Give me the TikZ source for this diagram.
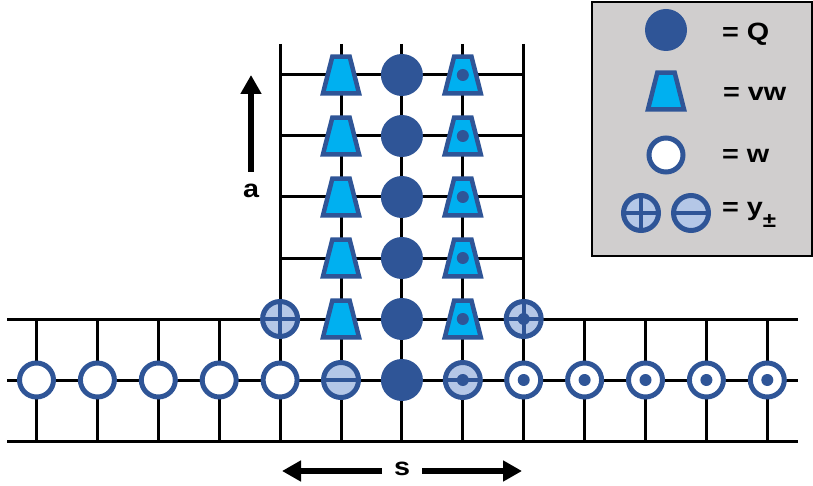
\documentclass[tikz,border=0pt]{standalone}
\usepackage{fontspec}
\setmainfont{Liberation Sans}[FakeStretch=1.15]
\usetikzlibrary{arrows.meta}
\definecolor{dkblue}{HTML}{2F5597}
\definecolor{ltblue}{HTML}{00B0F0}
\definecolor{pale}{HTML}{B4C7E7}
\definecolor{legbg}{HTML}{D0CECE}
\begin{document}
\begin{tikzpicture}[x=1pt,y=-1pt,
  gridline/.style={line width=3pt,black},
  qnode/.style={circle,fill=dkblue,minimum size=42pt,inner sep=0pt},
  wnode/.style={circle,draw=dkblue,line width=5pt,fill=white,minimum size=34pt,inner sep=0pt},
  wdot/.style={wnode,path picture={\fill[dkblue] (path picture bounding box.center) circle (6pt);}},
  ynode/.style={circle,draw=dkblue,line width=5pt,fill=pale,minimum size=35pt,inner sep=0pt},
  yplus/.style={ynode,path picture={\draw[dkblue,line width=4pt]
      (path picture bounding box.north) -- (path picture bounding box.south)
      (path picture bounding box.west) -- (path picture bounding box.east);}},
  yplusdot/.style={ynode,path picture={\draw[dkblue,line width=4pt]
      (path picture bounding box.north) -- (path picture bounding box.south)
      (path picture bounding box.west) -- (path picture bounding box.east);
      \fill[dkblue] (path picture bounding box.center) circle (6pt);}},
  yminus/.style={ynode,path picture={\draw[dkblue,line width=4pt]
      (path picture bounding box.west) -- (path picture bounding box.east);}},
  yminusdot/.style={ynode,path picture={\draw[dkblue,line width=4pt]
      (path picture bounding box.west) -- (path picture bounding box.east);
      \fill[dkblue] (path picture bounding box.center) circle (6pt);}},
  vw/.style={rectangle,minimum width=40pt,minimum height=41pt,inner sep=0pt,
      append after command={\pgfextra{\filldraw[draw=dkblue,fill=ltblue,line width=4.5pt,line join=miter]
        (\tikzlastnode.center) ++(-18,18.3) -- ++(36,0) -- ++(-9.3,-36.6) -- ++(-17.4,0) -- cycle;}}},
  vwdot/.style={vw,append after command={\pgfextra{\fill[dkblue] (\tikzlastnode.center) circle (6pt);}}},
  lab/.style={font=\bfseries\fontsize{25}{28}\selectfont,inner sep=0pt},
  bigarrow/.style={line width=6pt,-{Triangle[width=20pt,length=19pt]}},
]
\useasboundingbox (0,0) rectangle (813,486);
% lattice coordinates
\foreach \c/\x in {1/36.5,2/97.4,3/158.3,4/219.2,5/280.1,6/341,7/401.9,8/462.8,9/523.7,10/584.6,11/645.5,12/706.4,13/767.3}{
  \coordinate (t\c) at (\x,44);
  \coordinate (m\c) at (\x,319);
  \coordinate (b\c) at (\x,441);
}
\foreach \r/\y in {5/319,6/380,7/441}{
  \coordinate (L\r) at (7,\y);
  \coordinate (R\r) at (798,\y);
}
\foreach \r/\y in {1/75,2/136,3/197,4/258}{
  \coordinate (SL\r) at (280.1,\y);
  \coordinate (SR\r) at (523.7,\y);
}
% grid lines
\foreach \r in {5,6,7} \draw[gridline] (L\r) -- (R\r);
\foreach \r in {1,2,3,4} \draw[gridline] (SL\r) -- (SR\r);
\foreach \c in {1,2,3,4,10,11,12,13} \draw[gridline] (m\c) -- (b\c);
\foreach \c in {5,6,7,8,9} \draw[gridline] (t\c) -- (b\c);
% upper column
\foreach \r/\y in {1/75,2/136,3/197,4/258,5/319}{
  \node[vw] (n6-\r) at (341,\y) {};
  \node[qnode] (n7-\r) at (401.9,\y) {};
  \node[vwdot] (n8-\r) at (462.8,\y) {};
}
\node[yplus] (n5-5) at (280.1,319) {};
\node[yplusdot] (n9-5) at (523.7,319) {};
% bottom chain
\foreach \c/\x in {1/36.5,2/97.4,3/158.3,4/219.2,5/280.1}
  \node[wnode] (n\c-6) at (\x,380) {};
\node[yminus] (n6-6) at (341,380) {};
\node[qnode] (n7-6) at (401.9,380) {};
\node[yminusdot] (n8-6) at (462.8,380) {};
\foreach \c/\x in {9/523.7,10/584.6,11/645.5,12/706.4,13/767.3}
  \node[wdot] (n\c-6) at (\x,380) {};
% arrows
\coordinate (aS) at (251,172);
\coordinate (aE) at (251,75);
\draw[bigarrow] (aS) -- (aE);
\node[lab,anchor=base] (alab) at (251,198) {a};
\node[lab,anchor=base] (slab) at (402,475) {s};
\coordinate (sL) at (282,471);
\coordinate (sR) at (522,471);
\coordinate (sLs) at (382,471);
\coordinate (sRs) at (422,471);
\draw[bigarrow] (sLs) -- (sL);
\draw[bigarrow] (sRs) -- (sR);
% legend
\node[draw=black,line width=2pt,fill=legbg,minimum width=220pt,minimum height=254pt,
      inner sep=0pt,anchor=north west] (legend) at (591,1) {};
\node[qnode] (legQ) at (666,30) {};
\node[vw] (legV) at (666,91) {};
\node[wnode] (legW) at (666,155) {};
\node[yplus] (legYp) at (641,213) {};
\node[yminus] (legYm) at (691,213) {};
\node[lab,anchor=base west] (tQ) at (722,41) {= Q};
\node[lab,anchor=base west] (tV) at (723,101) {= vw};
\node[lab,anchor=base west] (tW) at (722,163) {= w};
\node[lab,anchor=base west] (tY) at (722,216) {= y\raisebox{-12pt}{\fontsize{21}{21}\selectfont ±}};
\end{tikzpicture}
\end{document}
